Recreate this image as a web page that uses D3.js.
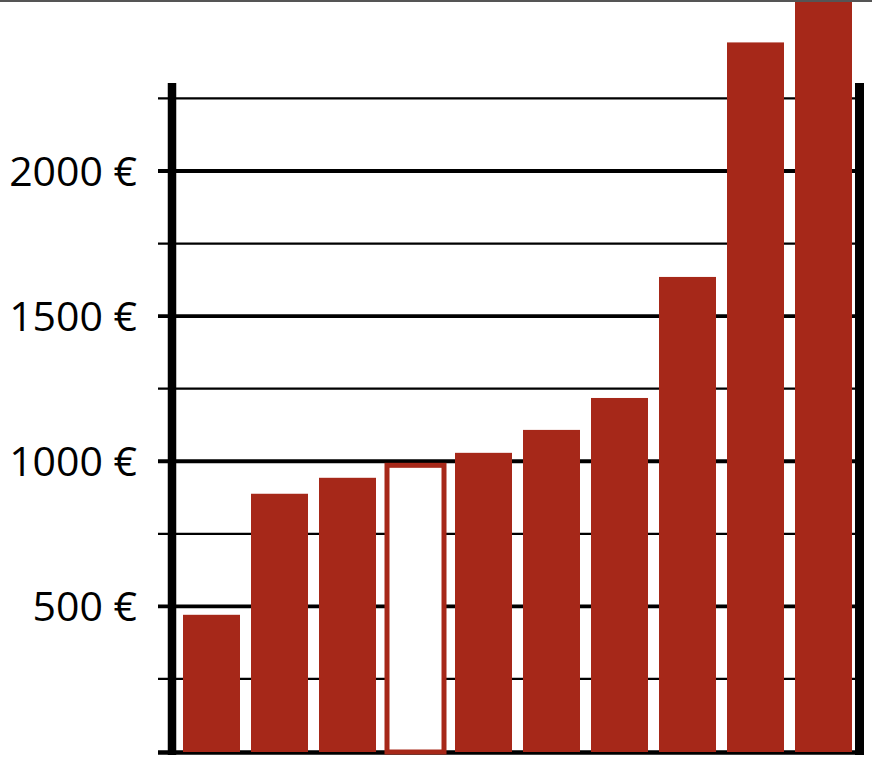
<!DOCTYPE html>
<html>
<head>
<meta charset="utf-8">
<script src="https://cdnjs.cloudflare.com/ajax/libs/d3/7.8.5/d3.min.js"></script>
<style>
html,body{margin:0;padding:0;background:#fff;}
svg{display:block;}
</style>
</head>
<body>
<svg id="chart" width="872" height="776"></svg>
<script>
// ---- data ----
const categories = ["A","B","C","D","E","F","G","H","I","J"];
const values = [471, 888, 943, 986, 1029, 1108, 1218, 1635, 2443, 2650];
const highlighted = ["D"];
const majorTicks = [500, 1000, 1500, 2000];
const minorTicks = [250, 750, 1250, 1750, 2250];
const tickLabels = ["500 €", "1000 €", "1500 €", "2000 €"];

const svg = d3.select("#chart");
const W = 872, H = 776;
const barColor = "#a62819";

const y = d3.scaleLinear().domain([0, 2000]).range([751.5, 171]);
const x = d3.scaleBand().domain(categories).range([177.5, 857.5])
  .paddingInner(11/68).paddingOuter(11/136);

const gridX0 = 158, gridX1 = 856;

// grid lines
svg.append("g").selectAll("line.minor").data(minorTicks).join("line")
  .attr("x1", gridX0).attr("x2", gridX1)
  .attr("y1", d => y(d)).attr("y2", d => y(d))
  .attr("stroke", "#000").attr("stroke-width", 2.2);
svg.append("g").selectAll("line.major").data(majorTicks).join("line")
  .attr("x1", gridX0).attr("x2", gridX1)
  .attr("y1", d => y(d)).attr("y2", d => y(d))
  .attr("stroke", "#000").attr("stroke-width", 3.8);

// labels
svg.append("g").selectAll("text").data(majorTicks).join("text")
  .attr("x", 137).attr("y", d => y(d))
  .attr("dy", "0.36em")
  .attr("text-anchor", "end")
  .attr("font-family", "'Open Sans', 'Noto Sans', sans-serif")
  .attr("font-size", 41)
  .attr("fill", "#000")
  .text((d, i) => tickLabels[i]);

// axis frame
svg.append("line").attr("x1", 172).attr("x2", 172).attr("y1", 83).attr("y2", 755)
  .attr("stroke", "#000").attr("stroke-width", 8.5);
svg.append("line").attr("x1", 859.5).attr("x2", 859.5).attr("y1", 83).attr("y2", 755)
  .attr("stroke", "#000").attr("stroke-width", 9);
svg.append("line").attr("x1", gridX0).attr("x2", 864).attr("y1", 752.5).attr("y2", 752.5)
  .attr("stroke", "#000").attr("stroke-width", 4.5);

// bars
const data = categories.map((c, i) => ({c, v: values[i]}));
svg.append("g").selectAll("rect").data(data).join("rect")
  .attr("x", d => x(d.c))
  .attr("width", x.bandwidth())
  .attr("y", d => y(d.v))
  .attr("height", d => y(0) + 0.5 - y(d.v))
  .attr("fill", d => highlighted.includes(d.c) ? "#fff" : barColor)
  .attr("stroke", d => highlighted.includes(d.c) ? barColor : "none")
  .attr("stroke-width", 5);

// top border
svg.append("line").attr("x1", 0).attr("x2", W).attr("y1", 1).attr("y2", 1)
  .attr("stroke", "#555").attr("stroke-width", 2);
</script>
</body>
</html>
